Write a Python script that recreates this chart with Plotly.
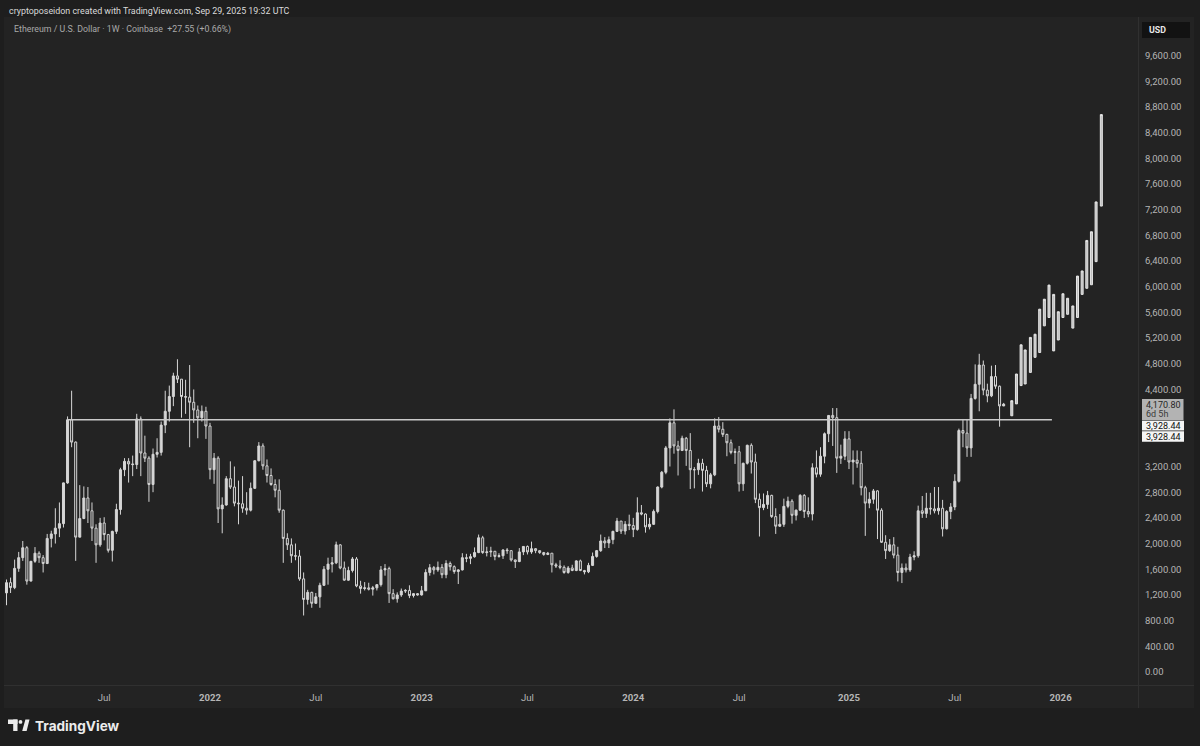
import pandas as pd
import plotly.graph_objects as go

# ---------------- DATA ----------------
# Weekly ETH/USD (Coinbase) candles, weeks starting Monday 2021-01-18
week_start = "2021-01-18"

week_open = [
    # 2021
    1232, 1391, 1314, 1614, 1781, 1935, 1416, 1724, 1850, 1780, 1690, 2080, 2150, 2240, 2310, 2945, 3928,
    3580, 2100, 2390, 2710, 2510, 2240, 1980, 2320, 2140, 1895, 2190, 2530, 3150, 3280, 3240, 3230, 3940,
    3410, 3330, 2920, 3390, 3420, 3845, 4060, 4290, 4610, 4560, 4290, 4280, 4200, 4080, 3960, 4060,
    # 2022
    3830, 3150, 3330, 2540, 2600, 3010, 2880, 2630, 2620, 2550, 2520, 2860, 3290, 3520, 3210, 3060, 2920,
    2830, 2520, 2080, 1980, 1810, 1805, 1450, 1130, 1240, 1070, 1170, 1350, 1600, 1680, 1700, 1980, 1620,
    1430, 1580, 1760, 1340, 1300, 1310, 1290, 1310, 1360, 1590, 1610, 1220, 1140, 1200, 1260, 1270, 1190, 1220,
    # 2023
    1200, 1265, 1550, 1625, 1590, 1630, 1515, 1690, 1640, 1565, 1590, 1780, 1770, 1795, 1860, 2090, 1860,
    1870, 1880, 1800, 1810, 1900, 1890, 1745, 1720, 1870, 1955, 1870, 1920, 1890, 1860, 1830, 1850, 1670,
    1650, 1630, 1550, 1620, 1580, 1730, 1580, 1560, 1660, 1800, 1890, 2040, 2010, 2060, 2190, 2350, 2195, 2300,
    # 2024
    2280, 2220, 2480, 2460, 2260, 2300, 2500, 2880, 3110, 3490, 3880, 3520, 3450, 3640, 3450, 3150, 3150,
    3250, 3140, 2930, 3070, 3830, 3780, 3700, 3570, 3420, 3430, 2930, 3250, 3530, 3270, 2690, 2560, 2610,
    2750, 2420, 2270, 2300, 2580, 2660, 2440, 2520, 2750, 2500, 2460, 3180, 3080, 3360, 3710, 3995, 3960,
    3330, 3360,
    # 2025
    3630, 3270, 3300, 3250, 2870, 2630, 2690, 2820, 2520, 2020, 1890, 1980, 1820, 1550, 1620, 1590, 1790,
    1810, 2510, 2470, 2550, 2540, 2510, 2550, 2230, 2500, 2570, 2970, 3760, 3720, 3490, 4260, 4480, 4780,
    4390, 4300, 4600, 4450, 4143.25,
]

week_high = [
    # 2021
    1440, 1470, 1750, 1870, 2040, 1960, 1660, 1945, 1880, 1820, 2150, 2200, 2550, 2640, 2950, 3980, 4380,
    3590, 2910, 2890, 2880, 2640, 2300, 2400, 2410, 2150, 2200, 2620, 3180, 3330, 3330, 3370, 4020, 3980,
    3680, 3360, 3480, 3640, 3900, 4380, 4460, 4660, 4870, 4560, 4550, 4780, 4400, 4150, 4150, 4130,
    # 2022
    3880, 3410, 3360, 2720, 3050, 3280, 3200, 2980, 3050, 2800, 2950, 3300, 3580, 3560, 3310, 3170, 3000,
    3000, 2530, 2160, 2080, 2000, 1900, 1550, 1280, 1250, 1230, 1390, 1650, 1780, 1790, 2030, 1990, 1720,
    1640, 1790, 1790, 1420, 1400, 1390, 1340, 1370, 1650, 1680, 1640, 1290, 1240, 1300, 1290, 1350, 1230, 1230,
    # 2023
    1340, 1600, 1680, 1650, 1720, 1680, 1740, 1720, 1660, 1600, 1850, 1840, 1840, 1940, 2140, 2120, 1950,
    1950, 1880, 1850, 1910, 1930, 1890, 1750, 1930, 1960, 1970, 2030, 1930, 1890, 1870, 1870, 1850, 1700,
    1740, 1660, 1650, 1670, 1740, 1750, 1590, 1700, 1860, 1900, 2140, 2100, 2110, 2200, 2400, 2350, 2350, 2450,
    # 2024
    2400, 2720, 2600, 2470, 2400, 2530, 2890, 3130, 3520, 3950, 4090, 3600, 3680, 3660, 3720, 3190, 3320,
    3320, 3210, 3100, 3950, 3970, 3890, 3710, 3620, 3480, 3520, 3260, 3540, 3560, 3400, 2780, 2780, 2820,
    2760, 2550, 2460, 2700, 2730, 2690, 2530, 2770, 2770, 2720, 3250, 3450, 3500, 3730, 4000, 4110, 4110,
    3540, 3750,
    # 2025
    3750, 3450, 3450, 3440, 2900, 2800, 2850, 2830, 2550, 2130, 2070, 2100, 1950, 1690, 1690, 1840, 1880,
    2590, 2740, 2790, 2790, 2880, 2880, 2680, 2520, 2630, 3080, 3790, 3940, 3940, 4330, 4790, 4955, 4850,
    4490, 4770, 4780, 4460, 4190,
]

week_low = [
    # 2021
    1040, 1230, 1290, 1560, 1730, 1360, 1410, 1700, 1700, 1550, 1680, 1940, 2000, 2100, 2250, 2930, 3500,
    1730, 2100, 2380, 2320, 2040, 1700, 1950, 2050, 1860, 1720, 2150, 2450, 3050, 2950, 3050, 3160, 3050,
    3270, 2650, 2800, 3340, 3370, 3720, 3900, 4140, 4500, 3960, 4020, 3500, 3880, 3640, 3900, 3630,
    # 2022
    3000, 2930, 2320, 2160, 2590, 2850, 2580, 2300, 2480, 2450, 2500, 2850, 3280, 3150, 2950, 2900, 2720,
    2480, 1700, 1900, 1700, 1740, 1420, 880, 1050, 1000, 1060, 1000, 1340, 1360, 1550, 1680, 1600, 1420,
    1420, 1550, 1320, 1220, 1270, 1270, 1190, 1270, 1330, 1500, 1075, 1130, 1080, 1170, 1230, 1150, 1160, 1190,
    # 2023
    1190, 1260, 1500, 1520, 1560, 1460, 1460, 1580, 1530, 1370, 1580, 1710, 1680, 1780, 1850, 1840, 1800,
    1790, 1740, 1780, 1760, 1840, 1720, 1620, 1710, 1820, 1830, 1840, 1850, 1840, 1810, 1820, 1550, 1620,
    1600, 1530, 1530, 1570, 1570, 1570, 1520, 1540, 1650, 1780, 1870, 1930, 1930, 1990, 2180, 2150, 2140, 2210,
    # 2024
    2100, 2200, 2440, 2170, 2220, 2290, 2470, 2860, 3080, 3200, 3400, 3060, 3440, 3210, 2850, 2860, 3070,
    2810, 2880, 2860, 3050, 3730, 3660, 3360, 3390, 3240, 2810, 2820, 3230, 3090, 2630, 2110, 2520, 2540,
    2400, 2150, 2260, 2260, 2550, 2310, 2360, 2510, 2400, 2410, 2360, 3030, 3040, 3250, 3580, 3520, 3100,
    3240, 3300,
    # 2025
    3160, 2920, 3180, 2750, 2120, 2550, 2620, 2070, 2010, 1760, 1870, 1770, 1410, 1385, 1550, 1560, 1740,
    1780, 2400, 2400, 2450, 2470, 2450, 2110, 2220, 2380, 2520, 2950, 3500, 3350, 3350, 4240, 4060, 4310,
    4200, 4280, 4410, 3820, 4140,
]

week_close = [
    # 2021
    1391, 1314, 1614, 1781, 1935, 1416, 1724, 1850, 1780, 1690, 2080, 2150, 2240, 2310, 2945, 3928, 3580,
    2100, 2390, 2710, 2510, 2240, 1980, 2320, 2140, 1895, 2190, 2530, 3150, 3280, 3240, 3230, 3940, 3410,
    3330, 2920, 3390, 3420, 3845, 4060, 4290, 4610, 4560, 4290, 4280, 4200, 4080, 3960, 4060, 3830,
    # 2022
    3150, 3330, 2540, 2600, 3010, 2880, 2630, 2620, 2550, 2520, 2860, 3290, 3520, 3210, 3060, 2920, 2830,
    2520, 2080, 1980, 1810, 1805, 1450, 1130, 1240, 1070, 1170, 1350, 1600, 1680, 1700, 1980, 1620, 1430,
    1580, 1760, 1340, 1300, 1310, 1290, 1310, 1360, 1590, 1610, 1220, 1140, 1200, 1260, 1270, 1190, 1220, 1200,
    # 2023
    1265, 1550, 1625, 1590, 1630, 1515, 1690, 1640, 1565, 1590, 1780, 1770, 1795, 1860, 2090, 1860, 1870,
    1880, 1800, 1810, 1900, 1890, 1745, 1720, 1870, 1955, 1870, 1920, 1890, 1860, 1830, 1850, 1670, 1650,
    1630, 1550, 1620, 1580, 1730, 1580, 1560, 1660, 1800, 1890, 2040, 2010, 2060, 2190, 2350, 2195, 2300, 2280,
    # 2024
    2220, 2480, 2460, 2260, 2300, 2500, 2880, 3110, 3490, 3880, 3520, 3450, 3640, 3450, 3150, 3150, 3250,
    3140, 2930, 3070, 3830, 3780, 3700, 3570, 3420, 3430, 2930, 3250, 3530, 3270, 2690, 2560, 2610, 2750,
    2420, 2270, 2300, 2580, 2660, 2440, 2520, 2750, 2500, 2460, 3180, 3080, 3360, 3710, 3995, 3960, 3330,
    3360, 3630,
    # 2025
    3270, 3300, 3250, 2870, 2630, 2690, 2820, 2520, 2020, 1890, 1980, 1820, 1550, 1620, 1590, 1790, 1810,
    2510, 2470, 2550, 2540, 2510, 2550, 2230, 2500, 2570, 2970, 3760, 3720, 3490, 4260, 4480, 4780, 4390,
    4300, 4600, 4450, 4143.25, 4170.80,
]

# Projected bars pattern (low / high)
proj_dates = ["2025-10-13", "2025-10-21", "2025-10-29", "2025-11-05", "2025-11-14", "2025-11-22",
              "2025-11-30", "2025-12-08", "2025-12-16", "2025-12-24", "2026-01-01", "2026-01-09",
              "2026-01-17", "2026-01-26", "2026-02-03", "2026-02-11", "2026-02-19", "2026-02-27",
              "2026-03-07", "2026-03-16"]
proj_low = [3990, 4175, 4460, 4485, 4665, 4900, 4975, 5390, 5520, 5000,
            5170, 5520, 5570, 5355, 5520, 5880, 5975, 6030, 6390, 7255]
proj_high = [4225, 4640, 5095, 5015, 5210, 5260, 5650, 5805, 6025, 5880,
             5610, 5890, 5820, 5700, 6165, 6245, 6720, 6855, 7320, 8680]

# Horizontal level
level_price = 3928.44
level_start = "2021-05-03"
level_end = "2025-12-21"

# Axis labels
price_ticks = [0, 400, 800, 1200, 1600, 2000, 2400, 2800, 3200, 4400, 4800, 5200, 5600,
               6000, 6400, 6800, 7200, 7600, 8000, 8400, 8800, 9200, 9600]
time_tick_dates = ["2021-07-05", "2022-01-03", "2022-07-04", "2023-01-02", "2023-07-03",
                   "2024-01-01", "2024-07-01", "2025-01-06", "2025-07-07", "2026-01-05"]
time_tick_text = ["Jul", "2022", "Jul", "2023", "Jul", "2024", "Jul", "2025", "Jul", "2026"]

last_price = "4,170.80"
countdown = "6d 5h"

assert len(week_open) == len(week_high) == len(week_low) == len(week_close), (
    len(week_open), len(week_high), len(week_low), len(week_close))

week_dates = pd.date_range(week_start, periods=len(week_close), freq="7D")

# ---------------- LAYOUT GEOMETRY ----------------
W, H = 1200, 746
L, R, T, B = 4, 62, 19, 61
PW, PH = W - L - R, H - T - B

def pxx(x):
    return (x - L) / PW

def pxy(y):
    return (H - B - y) / PH

per_px = 9600 / (672 - 55.5)
y_top = (672 - T) * per_px
y_bot = (672 - (H - B)) * per_px

ref_day = pd.Timestamp("2022-01-03")
px_per_day = 4.07 / 7
x_left = ref_day + pd.Timedelta(days=(L - 210) / px_per_day)
x_right = ref_day + pd.Timedelta(days=(W - R - 210) / px_per_day)

OUTER = "#1e1e1e"
PANE = "#232323"
CANDLE = "#d6d6d6"
FONT = "Roboto, sans-serif"

fig = go.Figure()

fig.add_trace(go.Candlestick(
    x=week_dates, open=week_open, high=week_high, low=week_low, close=week_close,
    increasing=dict(line=dict(color=CANDLE, width=1), fillcolor=CANDLE),
    decreasing=dict(line=dict(color=CANDLE, width=1), fillcolor=PANE),
    whiskerwidth=0, hoverinfo="skip", showlegend=False,
))

fig.add_trace(go.Candlestick(
    x=pd.to_datetime(proj_dates), open=proj_low, high=proj_high, low=proj_low, close=proj_high,
    increasing=dict(line=dict(color="#e6e6e6", width=1), fillcolor="#bdbdbd"),
    decreasing=dict(line=dict(color="#e6e6e6", width=1), fillcolor="#bdbdbd"),
    whiskerwidth=0, hoverinfo="skip", showlegend=False,
))

fig.add_trace(go.Scatter(
    x=[level_start, level_end], y=[level_price, level_price], mode="lines",
    line=dict(color="#c9c9c9", width=1.4), hoverinfo="skip", showlegend=False,
))

shapes = []
shapes.append(dict(type="rect", xref="paper", yref="paper", layer="below",
                   x0=pxx(4), x1=pxx(1194), y0=pxy(708), y1=pxy(17),
                   fillcolor=PANE, line=dict(width=0)))
shapes.append(dict(type="line", xref="paper", yref="paper", x0=pxx(1138.5), x1=pxx(1138.5),
                   y0=pxy(708), y1=pxy(17), line=dict(color="#303030", width=1)))
shapes.append(dict(type="line", xref="paper", yref="paper", x0=pxx(4), x1=pxx(1194),
                   y0=pxy(685.5), y1=pxy(685.5), line=dict(color="#303030", width=1)))
shapes.append(dict(type="rect", xref="paper", yref="paper", x0=pxx(1142), x1=pxx(1190),
                   y0=pxy(38), y1=pxy(22), fillcolor="#121212", line=dict(width=0)))
shapes.append(dict(type="rect", xref="paper", yref="paper", x0=pxx(1142), x1=pxx(1183.5),
                   y0=pxy(420.3), y1=pxy(399), fillcolor="#b3b3b3", line=dict(width=0)))
shapes.append(dict(type="rect", xref="paper", yref="paper", x0=pxx(1142), x1=pxx(1184),
                   y0=pxy(430.6), y1=pxy(420.8), fillcolor="#f4f4f4", line=dict(width=0)))
shapes.append(dict(type="rect", xref="paper", yref="paper", x0=pxx(1142), x1=pxx(1184),
                   y0=pxy(441.8), y1=pxy(431.3), fillcolor="#f4f4f4", line=dict(width=0)))
logo_c = "#ececec"
shapes.append(dict(type="rect", xref="paper", yref="paper", x0=pxx(8), x1=pxx(17.5),
                   y0=pxy(724), y1=pxy(719.5), fillcolor=logo_c, line=dict(width=0)))
shapes.append(dict(type="rect", xref="paper", yref="paper", x0=pxx(13.2), x1=pxx(17.5),
                   y0=pxy(731), y1=pxy(719.5), fillcolor=logo_c, line=dict(width=0)))
shapes.append(dict(type="circle", xref="paper", yref="paper", x0=pxx(18.6), x1=pxx(22.4),
                   y0=pxy(723.8), y1=pxy(720), fillcolor=logo_c, line=dict(width=0)))
shapes.append(dict(type="path", xref="paper", yref="paper",
                   path=(f"M {pxx(22.2)},{pxy(731)} L {pxx(26.6)},{pxy(731)} "
                         f"L {pxx(29.5)},{pxy(719.5)} L {pxx(25.4)},{pxy(719.5)} Z"),
                   fillcolor=logo_c, line=dict(width=0)))


def label(text, x, y, size, color, bold=False, family=FONT):
    return dict(text=(f"<b>{text}</b>" if bold else text), x=pxx(x), y=pxy(y),
                xref="paper", yref="paper", xanchor="left", yanchor="middle",
                showarrow=False, font=dict(family=family, size=size, color=color))


annotations = [
    label("cryptoposeidon created with TradingView.com, Sep 29, 2025 19:32 UTC", 6.5, 10.5, 8.9, "#dadada"),
    label("Ethereum / U.S. Dollar · 1W · Coinbase  +27.55 (+0.66%)", 12, 29.3, 8.8, "#a9a9a9"),
    label("USD", 1146.5, 30, 8.8, "#e8e8e8", bold=True),
    label(last_price, 1144.3, 404.8, 9.0, "#262626"),
    label(countdown, 1144.3, 413.6, 9.0, "#3a3a3a"),
    label(f"{level_price:,.2f}", 1144.3, 425.8, 9.0, "#111111"),
    label(f"{level_price:,.2f}", 1144.3, 436.7, 9.0, "#111111"),
    label("TradingView", 32.5, 725.5, 13.6, logo_c, bold=True, family="Inter, Roboto, sans-serif"),
]

tick_text = [f"<b>{t}</b>" if t.isdigit() else t for t in time_tick_text]

fig.update_layout(
    width=W, height=H,
    margin=dict(l=L, r=R, t=T, b=B, pad=0),
    paper_bgcolor=OUTER, plot_bgcolor=PANE,
    showlegend=False,
    shapes=shapes, annotations=annotations,
    xaxis=dict(type="date", range=[x_left, x_right], rangeslider=dict(visible=False),
               showgrid=False, zeroline=False, showline=False,
               tickmode="array", tickvals=pd.to_datetime(time_tick_dates), ticktext=tick_text,
               ticks="", ticklabelstandoff=5,
               tickfont=dict(family=FONT, size=9.6, color="#b5b5b5")),
    yaxis=dict(range=[y_bot, y_top], side="right", showgrid=False, zeroline=False, showline=False,
               tickmode="array", tickvals=price_ticks,
               ticktext=[f"{v:,.2f}" for v in price_ticks],
               ticks="", ticklabelstandoff=6,
               tickfont=dict(family=FONT, size=9.5, color="#b5b5b5")),
)

fig.write_html("out.html", config={"displayModeBar": False},
               post_script="document.body.style.margin='0';document.body.style.background='#1e1e1e';")
